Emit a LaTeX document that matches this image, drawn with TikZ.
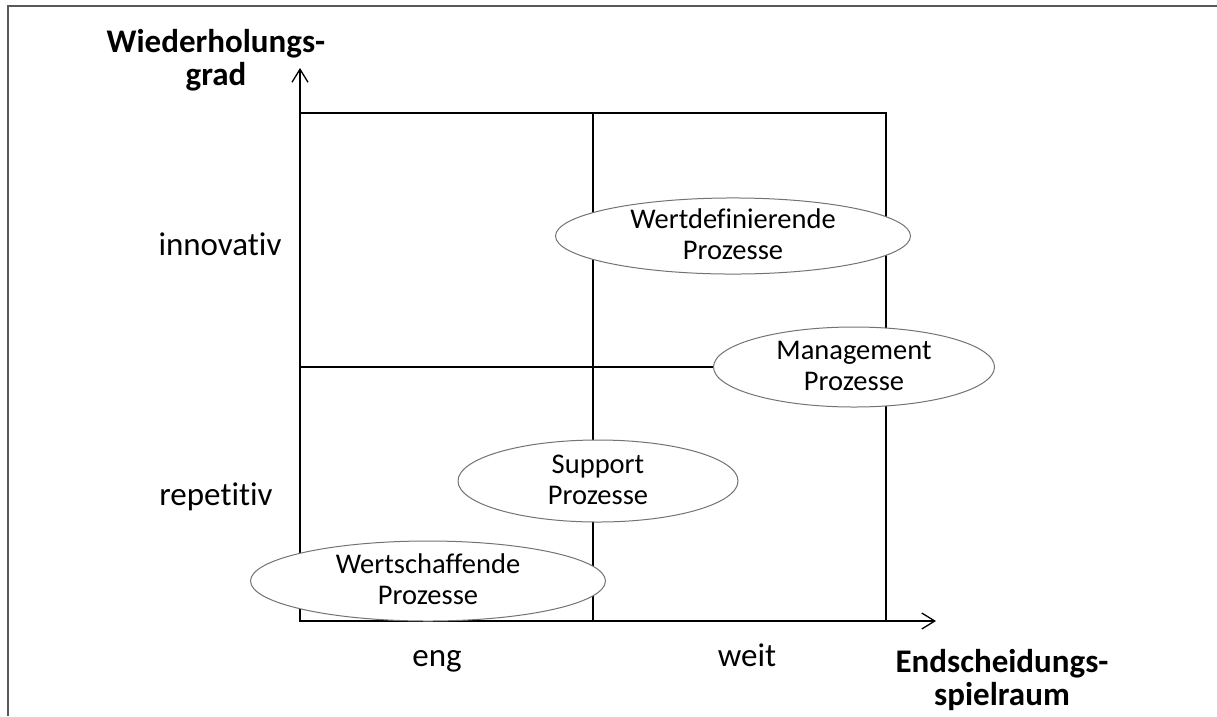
\documentclass[tikz,border=0pt]{standalone}
\usepackage{fontspec}
\setmainfont{Carlito}[Ligatures={NoCommon,NoContextual}]
\usetikzlibrary{shapes.geometric,arrows.meta}
\begin{document}
\begin{tikzpicture}[x=1pt,y=-1pt,
  frameline/.style={draw=black!65,line width=2pt},
  gridline/.style={draw=black,line width=1.3pt},
  axisline/.style={draw=black,line width=2.4pt,-{Straight Barb[length=13pt,width=16pt,line width=1.3pt]}},
  proc/.style={ellipse,draw=black!55,fill=white,line width=1pt,inner sep=0pt,
    align=center,font=\fontsize{28.5}{31}\selectfont},
  axislabel/.style={anchor=base,inner sep=0pt,font=\fontsize{33}{36}\selectfont},
  axistitle/.style={align=center,inner sep=0pt,font=\fontsize{33}{33}\selectfont\bfseries}]
\newcommand{\lift}{\rule[-3pt]{0pt}{0pt}}
\useasboundingbox (0,0) rectangle (1217,716);
% outer frame (left and top edges)
\coordinate (fTR) at (1217,6);
\coordinate (fTL) at (8,6);
\coordinate (fBL) at (8,716);
\draw[frameline] (fTR) -- (fTL) -- (fBL);
% grid of the portfolio
\coordinate (O) at (300,621);
\coordinate (TL) at (300,113);
\coordinate (TM) at (593,113);
\coordinate (TR) at (886,113);
\coordinate (BM) at (593,621);
\coordinate (BR) at (886,621);
\coordinate (ML) at (300,367);
\coordinate (MR) at (886,367);
\coordinate (ytip) at (300,68);
\coordinate (xtip) at (936,621);
\draw[gridline] (TL) -- (TR) -- (BR);
\draw[gridline] (TM) -- (BM);
\draw[gridline] (ML) -- (MR);
% axes
\draw[axisline] ([yshift=-1pt]O) -- (ytip);
\draw[axisline] ([xshift=-1pt]O) -- (xtip);
% process ellipses
\node[proc,minimum width=355pt,minimum height=74pt] (wd) at (733,236) {Wertdefinierende\\Prozesse\lift};
\node[proc,minimum width=281pt,minimum height=80pt] (mg) at (854,367) {Management\\Prozesse\lift};
\node[proc,minimum width=280pt,minimum height=82pt] (sp) at (598,481) {Support\\Prozesse\lift};
\node[proc,minimum width=355pt,minimum height=80pt] (ws) at (428,581) {Wertschaffende\\Prozesse\lift};
% axis labels
\node[axislabel] (inno) at (220,255) {innovativ};
\node[axislabel] (rep) at (216,505) {repetitiv};
\node[axislabel] (eng) at (437,666) {eng};
\node[axislabel] (weit) at (747,666) {weit};
\node[axistitle] (ytitle) at (216,60) {Wiederholungs-\\grad};
\node[axistitle] (xtitle) at (1002,680) {Endscheidungs-\\spielraum};
\end{tikzpicture}
\end{document}
